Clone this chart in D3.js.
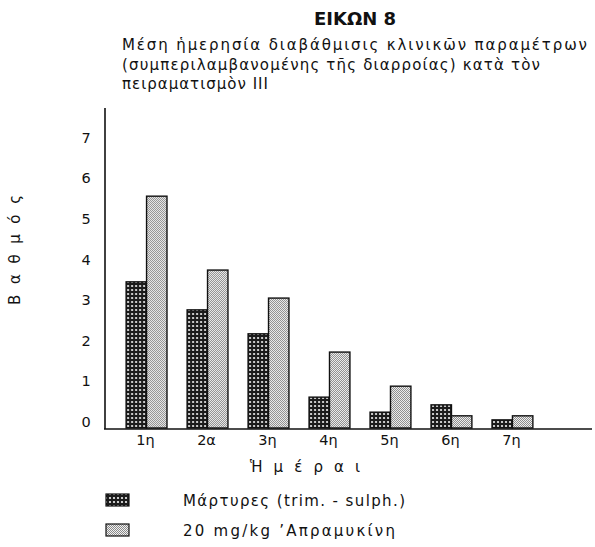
<!DOCTYPE html>
<html>
<head>
  <meta charset="utf-8">
  <title>ΕΙΚΩΝ 8</title>
  <style>
  body { margin: 0; background: #fff; }
  text { font-family: "DejaVu Sans", sans-serif; fill: #111; }
  .tick-label { font-size: 14.5px; }
  </style>
</head>
<body>
  <div id="chart"></div>
  <script src="https://cdn.jsdelivr.net/npm/d3@7/dist/d3.min.js"></script>
  <script>
  //values
  var days = ["1η", "2α", "3η", "4η", "5η", "6η", "7η"];
  var controlVals = [3.6, 2.91, 2.32, 0.76, 0.39, 0.57, 0.2];
  var apramycinVals = [5.71, 3.89, 3.2, 1.87, 1.03, 0.3, 0.3];
  var seriesNames = ["Μάρτυρες (trim. - sulph.)", "20 mg/kg  ’Απραμυκίνη"];
  var yTicks = [0, 1, 2, 3, 4, 5, 6, 7];

  var width = 595;
  var height = 547;

  var svg = d3.select("#chart")
    .append("svg")
    .attr("width", width)
    .attr("height", height);

  //dot patterns for the two series
  var defs = svg.append("defs");
  var dark = defs.append("pattern")
    .attr("id", "dark")
    .attr("patternUnits", "userSpaceOnUse")
    .attr("width", 4).attr("height", 4);
  dark.append("rect").attr("width", 4).attr("height", 4).attr("fill", "#1b1b1b");
  dark.append("circle").attr("cx", 2).attr("cy", 2).attr("r", 1.1).attr("fill", "#f4f4f4");

  var light = defs.append("pattern")
    .attr("id", "light")
    .attr("patternUnits", "userSpaceOnUse")
    .attr("width", 2).attr("height", 2);
  light.append("rect").attr("width", 2).attr("height", 2).attr("fill", "#f2f2f2");
  light.append("rect").attr("width", 1).attr("height", 1).attr("fill", "#8a8a8a");
  light.append("rect").attr("x", 1).attr("y", 1).attr("width", 1).attr("height", 1).attr("fill", "#8a8a8a");

  var fills = ["url(#dark)", "url(#light)"];

  //scales
  var x = d3.scaleBand()
    .domain(days)
    .range([106, 553])
    .paddingInner(0.33)
    .paddingOuter(0.33);

  var sub = d3.scaleBand()
    .domain([0, 1])
    .range([0, x.bandwidth()]);

  var y = d3.scaleLinear()
    .domain([0, 7])
    .range([428, 428 - 7 * 40.6]);

  var rows = days.map(function(d, i) {
    return {day: d, values: [controlVals[i], apramycinVals[i]]};
  });

  //bars
  svg.append("g")
    .selectAll("g")
    .data(rows)
    .enter().append("g")
    .attr("transform", function(d) { return "translate(" + x(d.day) + ",0)"; })
    .selectAll("rect")
    .data(function(d) { return d.values.map(function(v, k) { return {k: k, v: v}; }); })
    .enter().append("rect")
    .attr("x", function(d) { return sub(d.k); })
    .attr("y", function(d) { return y(d.v); })
    .attr("width", sub.bandwidth())
    .attr("height", function(d) { return y(0) - y(d.v); })
    .attr("fill", function(d) { return fills[d.k]; })
    .attr("stroke", "#111")
    .attr("stroke-width", 1.4);

  //axes lines
  svg.append("line")
    .attr("x1", 105).attr("x2", 105)
    .attr("y1", 108).attr("y2", y(0) + 1)
    .attr("stroke", "#111").attr("stroke-width", 1.6);
  svg.append("line")
    .attr("x1", 104).attr("x2", 592)
    .attr("y1", y(0) + 1).attr("y2", y(0) + 1)
    .attr("stroke", "#111").attr("stroke-width", 1.6);

  //y tick labels
  svg.append("g")
    .selectAll("text")
    .data(yTicks)
    .enter().append("text")
    .attr("class", "tick-label")
    .attr("x", 86)
    .attr("y", function(d) { return y(d) - 6; })
    .attr("dy", "0.35em")
    .attr("text-anchor", "middle")
    .text(function(d) { return d; });

  //x tick labels
  svg.append("g")
    .selectAll("text")
    .data(days)
    .enter().append("text")
    .attr("class", "tick-label")
    .attr("x", function(d) { return x(d) + x.bandwidth() / 2 - 1; })
    .attr("y", 445)
    .attr("text-anchor", "middle")
    .text(function(d) { return d; });

  //axis titles
  svg.append("text")
    .attr("x", 250).attr("y", 472)
    .attr("font-size", 15)
    .attr("textLength", 110)
    .attr("lengthAdjust", "spacing")
    .text("Ἡμέραι");

  svg.append("text")
    .attr("transform", "translate(20,305) rotate(-90)")
    .attr("font-size", 15)
    .attr("textLength", 110)
    .attr("lengthAdjust", "spacing")
    .text("Βαθμός");

  //titles
  svg.append("text")
    .attr("x", 355).attr("y", 25)
    .attr("text-anchor", "middle")
    .attr("font-size", 18)
    .attr("font-weight", "bold")
    .text("ΕΙΚΩΝ 8");

  var subLines = [
    {t: "Μέση ἡμερησία διαβάθμισις κλινικῶν παραμέτρων", w: 465, y: 50},
    {t: "(συμπεριλαμβανομένης τῆς διαρροίας) κατὰ τὸν", w: 418, y: 70},
    {t: "πειραματισμὸν ΙΙΙ", w: 146, y: 89}
  ];
  svg.append("g")
    .selectAll("text")
    .data(subLines)
    .enter().append("text")
    .attr("x", 122)
    .attr("y", function(d) { return d.y; })
    .attr("font-size", 15)
    .attr("textLength", function(d) { return d.w; })
    .attr("lengthAdjust", "spacing")
    .text(function(d) { return d.t; });

  //legend
  var legendWidths = [222, 212];
  var legend = svg.append("g")
    .selectAll("g")
    .data(seriesNames)
    .enter().append("g")
    .attr("transform", function(d, i) { return "translate(0," + i * 30 + ")"; });

  legend.append("rect")
    .attr("x", 106).attr("y", 494)
    .attr("width", 23).attr("height", 12)
    .attr("fill", function(d, i) { return fills[i]; })
    .attr("stroke", "#111")
    .attr("stroke-width", 1.2);

  legend.append("text")
    .attr("x", 183).attr("y", 506)
    .attr("font-size", 15)
    .attr("textLength", function(d, i) { return legendWidths[i]; })
    .attr("lengthAdjust", "spacing")
    .text(function(d) { return d; });
  </script>
</body>
</html>
